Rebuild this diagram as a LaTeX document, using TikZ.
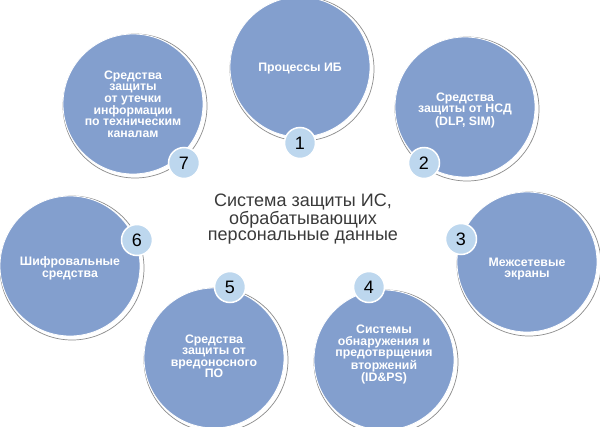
\documentclass[tikz,border=0pt]{standalone}
\usepackage{fontspec}
\setmainfont{Liberation Sans}
\definecolor{bubblefill}{HTML}{839FCE}
\definecolor{badgefill}{HTML}{BDD7EE}
\definecolor{shadowgray}{HTML}{8C8C8C}
\definecolor{maintext}{HTML}{3A3A3A}
\begin{document}
\begin{tikzpicture}[x=1pt,y=-1pt,
  shade/.style={circle, draw=shadowgray, line width=0.7pt, fill=white, inner sep=0pt, minimum size=144pt},
  bubble/.style={circle, fill=bubblefill, draw=white, line width=0.8pt, inner sep=0pt, minimum size=140pt,
     text=white, align=center, font=\fontsize{12.3}{11.3}\selectfont\bfseries},
  badge/.style={circle, fill=badgefill, draw=white, line width=1.5pt, inner sep=0pt, minimum size=31pt,
     text=black, font=\fontsize{18}{18}\selectfont},
  title/.style={align=center, text=maintext, font=\fontsize{18}{16.5}\selectfont}]
\useasboundingbox (0,0) rectangle (600,426);
\fill[white] (0,0) rectangle (600,426);
% shadows
\node[shade] (s1) at (302,69) {};
\node[shade] (s2) at (467,109) {};
\node[shade] (s3) at (529,264) {};
\node[shade] (s4) at (386,362) {};
\node[shade] (s5) at (216,360) {};
\node[shade] (s6) at (72,268) {};
\node[shade] (s7) at (135,106) {};
% bubbles
\node[bubble] (c1) at (300,67) {\\[1pt]Процессы ИБ};
\node[bubble] (c2) at (465,107) {\\[4pt]Средства\\защиты от НСД\\(DLP, SIM)};
\node[bubble] (c3) at (527,262) {\\[11pt]Межсетевые\\экраны};
\node[bubble] (c4) at (384,360) {Системы\\обнаружения и\\предотврщения\\вторжений\\(ID\&PS)\\[2pt]};
\node[bubble] (c5) at (214,358) {\\[-6pt]Средства\\защиты от\\вредоносного\\ПО};
\node[bubble] (c6) at (70,266) {\\[2pt]Шифровальные\\средства};
\node[bubble] (c7) at (133,104) {Средства\\защиты\\от утечки\\информации\\по техническим\\каналам};
% badges
\node[badge] (b1) at (300,143) {1};
\node[badge] (b2) at (424,163) {2};
\node[badge] (b3) at (461,239) {3};
\node[badge] (b4) at (369,287) {4};
\node[badge] (b5) at (230,287) {5};
\node[badge] (b6) at (137,240) {6};
\node[badge] (b7) at (184,163) {7};
% title
\node[title] (t) at (303,219) {Система защиты ИС,\\обрабатывающих\\персональные данные};
\end{tikzpicture}
\end{document}
